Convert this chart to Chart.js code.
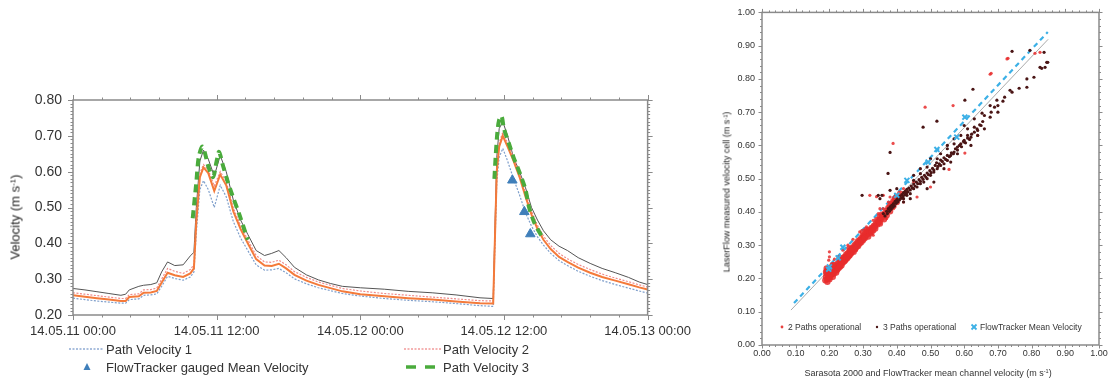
<!DOCTYPE html>
<html>
<head>
<meta charset="utf-8">
<script src="https://cdn.jsdelivr.net/npm/chart.js@4.4.1/dist/chart.umd.min.js"></script>
<style>
  html, body { margin: 0; padding: 0; background: #fff; }
  body { width: 1115px; height: 382px; position: relative; overflow: hidden; font-family: "Liberation Sans", Arial, sans-serif; color: #333; }
  .box { position: absolute; }
  .lbl { position: absolute; white-space: nowrap; line-height: 1; }
  .rot { transform: translate(-50%, -50%) rotate(-90deg); }
  sup { font-size: 0.62em; vertical-align: 0.45em; }
</style>
</head>
<body>
<div class="box" style="left:0;top:0;width:700px;height:382px"><canvas id="timeChart"></canvas></div>
<div class="box" style="left:700px;top:0;width:415px;height:382px"><canvas id="scatterChart"></canvas></div>

<!-- axis titles -->
<div class="lbl rot" style="left:15px;top:217px;font-size:13px;color:#222">Velocity (m s<sup>-1</sup>)</div>
<div class="lbl rot" style="left:727px;top:192px;font-size:9px;color:#222">LaserFlow measured velocity cell (m s<sup>-1</sup>)</div>
<div class="lbl" style="left:928px;top:373px;transform:translate(-50%,-50%);font-size:9px">Sarasota 2000 and FlowTracker mean channel velocity (m s<sup>-1</sup>)</div>

<!-- legends -->
<svg class="box" style="left:0;top:0" width="1115" height="382">
  <line x1="69" y1="349" x2="104" y2="349" stroke="#8fabd3" stroke-width="1.3" stroke-dasharray="2,1.5"/>
  <line x1="404" y1="349" x2="441" y2="349" stroke="#f29a9a" stroke-width="1.3" stroke-dasharray="2,1.5"/>
  <polygon points="87,363 83.5,370 90.5,370" fill="#3f7fba"/>
  <line x1="406" y1="367" x2="416" y2="367" stroke="#4aab3c" stroke-width="3.5"/>
  <line x1="425" y1="367" x2="435" y2="367" stroke="#4aab3c" stroke-width="3.5"/>
  <circle cx="782" cy="327" r="1.4" fill="#e8413f"/>
  <circle cx="877" cy="327" r="1.2" fill="#4a1515"/>
  <line x1="971.5" y1="324.5" x2="976.5" y2="329.5" stroke="#3cb0e6" stroke-width="1.8"/>
  <line x1="976.5" y1="324.5" x2="971.5" y2="329.5" stroke="#3cb0e6" stroke-width="1.8"/>
</svg>
<div class="lbl" style="left:106px;top:343px;font-size:13px">Path Velocity 1</div>
<div class="lbl" style="left:443px;top:343px;font-size:13px">Path Velocity 2</div>
<div class="lbl" style="left:106px;top:361px;font-size:13px">FlowTracker gauged Mean Velocity</div>
<div class="lbl" style="left:443px;top:361px;font-size:13px">Path Velocity 3</div>
<div class="lbl" style="left:788px;top:323px;font-size:8.5px">2 Paths operational</div>
<div class="lbl" style="left:883px;top:323px;font-size:8.5px">3 Paths operational</div>
<div class="lbl" style="left:980px;top:323px;font-size:8.5px">FlowTracker Mean Velocity</div>

<script>
// time series, hours since 14.05.11 00:00
const timeLabels = ["14.05.11 00:00", "14.05.11 12:00", "14.05.12 00:00", "14.05.12 12:00", "14.05.13 00:00"];
const hours = [0,1,2,3,4, 4.4,4.7,5.5,5.9,6.5, 7,7.4,7.9,8.5,9.2, 9.8,10.1,10.3,10.6,10.9,
  11.3,11.8,12.3,12.8,13.4, 14,14.6,15.3,16,16.6, 17.2,17.8,18.5,19.5,20.5, 21.5,22.5,24,26,28,
  30,32,34,35.1,35.25, 35.4,35.6,35.9,36.3,36.8, 37.3,37.8,38.3,38.8,39.3, 39.9,40.6,41.3,42.2,43.2,
  44.2,45.3,46.4,47.3,48];
const upperVel = [0.274,0.270,0.265,0.260,0.255, 0.258,0.270,0.280,0.283,0.285, 0.290,0.320,0.348,0.338,0.340,
  0.365,0.375,0.500,0.630,0.660, 0.635,0.588,0.645,0.600,0.520, 0.465,0.425,0.380,0.366,0.372,
  0.380,0.360,0.333,0.312,0.298, 0.288,0.280,0.276,0.272,0.266, 0.262,0.256,0.248,0.246,0.450,
  0.640,0.720,0.740,0.700,0.640, 0.600,0.555,0.500,0.465,0.435, 0.410,0.392,0.380,0.360,0.344,
  0.330,0.318,0.305,0.292,0.285];
const meanVel = [0.255,0.251,0.247,0.243,0.239, 0.239,0.250,0.252,0.262,0.263, 0.267,0.290,0.318,0.311,0.306,
  0.316,0.330,0.460,0.585,0.612, 0.596,0.546,0.592,0.562,0.488, 0.440,0.400,0.356,0.338,0.337,
  0.343,0.330,0.312,0.296,0.284, 0.275,0.266,0.258,0.252,0.247, 0.243,0.238,0.233,0.232,0.420,
  0.600,0.670,0.700,0.670,0.630, 0.585,0.530,0.480,0.440,0.410, 0.384,0.362,0.348,0.332,0.318,
  0.306,0.296,0.286,0.277,0.271];
const pathVel1 = [0.247,0.243,0.239,0.236,0.233, 0.233,0.243,0.245,0.255,0.256, 0.259,0.280,0.308,0.302,0.297,
  0.306,0.320,0.430,0.550,0.575, 0.550,0.500,0.562,0.530,0.460, 0.415,0.380,0.340,0.325,0.326,
  0.330,0.318,0.301,0.287,0.276, 0.268,0.260,0.253,0.246,0.241, 0.237,0.232,0.226,0.224,0.400,
  0.570,0.640,0.665,0.630,0.580, 0.535,0.485,0.448,0.418,0.395, 0.372,0.352,0.338,0.322,0.308,
  0.296,0.285,0.275,0.267,0.261];
const pathVel2 = [0.262,0.258,0.254,0.250,0.246, 0.246,0.257,0.259,0.270,0.271, 0.275,0.300,0.330,0.322,0.316,
  0.327,0.340,0.470,0.595,0.620, 0.605,0.560,0.600,0.572,0.498, 0.450,0.410,0.366,0.348,0.347,
  0.353,0.340,0.321,0.305,0.292, 0.283,0.274,0.267,0.260,0.255, 0.250,0.245,0.240,0.239,0.430,
  0.610,0.680,0.710,0.680,0.640, 0.595,0.540,0.490,0.450,0.420, 0.394,0.372,0.357,0.341,0.327,
  0.314,0.303,0.293,0.284,0.278];
const pv3HoursA = [10.0,10.3,10.5,10.8,11.0,11.3,11.7,12.0,12.2,12.5,12.9,13.3,13.9,14.3,14.6];
const pathVel3A = [0.470,0.570,0.640,0.670,0.655,0.615,0.585,0.630,0.655,0.620,0.575,0.535,0.480,0.440,0.410];
const pv3HoursB = [35.2,35.3,35.45,35.6,35.8,36.0,36.4,36.8,37.1,37.5,37.8,38.1,38.5,38.8,39.2];
const pathVel3B = [0.580,0.640,0.710,0.745,0.755,0.720,0.680,0.640,0.615,0.580,0.550,0.500,0.460,0.440,0.418];
const gaugedHours = [36.7, 37.7, 38.2];
const gaugedVel = [0.576, 0.488, 0.426];

// scatter: 2 paths operational (dense core first, then scattered points)
const twoPathX = [0.190,0.192,0.195,0.195,0.198,0.200,0.200,0.203,0.205,0.207,0.208,0.210,0.212,0.215,0.215,0.218,0.220,0.222,0.225,0.225,
  0.228,0.230,0.232,0.235,0.235,0.238,0.240,0.242,0.245,0.248,0.250,0.252,0.255,0.258,0.260,0.262,0.265,0.268,0.270,0.272,
  0.275,0.278,0.280,0.283,0.285,0.288,0.290,0.293,0.295,0.298,0.300,0.303,0.306,0.309,0.312,0.315,0.318,0.322,0.325,0.328,
  0.332,0.335,0.338,0.342,0.345,0.348,0.352,0.356,0.360,0.365,0.370,0.375,0.380,0.385,0.390,0.395,0.400,0.410,
  0.188,0.190,0.192,0.194,0.197,0.200,0.202,0.205,0.208,0.210,0.213,0.216,0.220,0.224,0.228,0.232,0.236,0.240,0.244,0.248,
  0.252,0.256,0.260,0.264,0.268,0.272,0.276,0.280,0.285,0.290,0.295,0.300,0.305,0.310,0.315,0.320,0.325,0.330,0.336,0.342,
  0.350,0.355,0.362,0.370,0.380,0.390,0.400,0.350,0.300,0.260,0.230,0.210,
  0.200,0.198,0.215,0.240,0.255,0.270,0.290,0.310,0.330,0.345,0.360,0.375,0.380,0.360,0.420,0.450,0.500,0.460,0.400,0.430,
  0.350,0.390,0.370,0.330,0.420,0.190,0.205,0.225,0.250,0.280,0.200,0.320,0.340,
  0.389,0.484,0.567,0.602,0.555,0.677,0.640,0.825,0.810,0.730,0.680,0.727];
const twoPathY = [0.205,0.215,0.225,0.200,0.212,0.230,0.218,0.208,0.222,0.235,0.214,0.226,0.220,0.232,0.240,0.226,0.236,0.228,0.245,0.234,
  0.240,0.250,0.242,0.255,0.246,0.252,0.262,0.255,0.265,0.260,0.272,0.266,0.276,0.270,0.283,0.276,0.288,0.282,0.293,0.288,
  0.300,0.294,0.305,0.300,0.312,0.306,0.316,0.312,0.322,0.318,0.328,0.323,0.334,0.330,0.340,0.336,0.346,0.343,0.352,0.350,
  0.358,0.356,0.365,0.362,0.372,0.370,0.378,0.384,0.390,0.396,0.404,0.412,0.418,0.425,0.432,0.440,0.446,0.455,
  0.195,0.220,0.230,0.190,0.205,0.198,0.225,0.212,0.228,0.205,0.215,0.225,0.218,0.228,0.232,0.236,0.240,0.248,0.252,0.258,
  0.260,0.265,0.270,0.275,0.290,0.280,0.288,0.295,0.298,0.305,0.310,0.316,0.322,0.345,0.326,0.335,0.340,0.345,0.350,0.376,
  0.365,0.392,0.378,0.390,0.402,0.418,0.430,0.385,0.340,0.290,0.260,0.240,
  0.265,0.255,0.258,0.285,0.300,0.318,0.340,0.355,0.375,0.395,0.410,0.430,0.445,0.450,0.470,0.490,0.475,0.445,0.440,0.460,
  0.410,0.410,0.380,0.330,0.430,0.195,0.200,0.220,0.250,0.285,0.280,0.450,0.446,
  0.606,0.715,0.720,0.577,0.528,0.814,0.630,0.880,0.877,0.862,0.817,0.860];
const twoPathCore = 130;

// scatter: 3 paths operational
const threePathX = [0.360,0.365,0.370,0.372,0.375,0.378,0.380,0.383,0.385,0.388,0.390,0.393,0.395,0.398,0.400,0.403,0.405,0.408,0.410,0.413,
  0.415,0.418,0.420,0.423,0.425,0.428,0.430,0.433,0.436,0.440,0.443,0.446,0.450,0.454,0.458,0.462,0.466,0.470,0.474,0.478,
  0.482,0.486,0.490,0.494,0.498,0.502,0.506,0.510,0.514,0.518,0.520,0.522,0.526,0.530,0.535,0.540,0.545,0.550,0.556,0.562,
  0.568,0.574,0.580,0.586,0.592,0.598,0.604,0.610,0.616,0.622,0.630,0.638,0.646,0.655,
  0.420,0.430,0.440,0.450,0.460,0.470,0.480,0.490,0.500,0.510,0.520,0.530,0.540,0.550,0.560,0.570,0.580,0.590,0.600,0.610,
  0.620,0.630,0.640,0.650,0.450,0.470,0.490,0.530,0.550,0.570,0.590,0.610,0.630,0.660,0.680,0.700,
  0.374,0.380,0.345,0.350,0.400,0.450,0.470,0.500,0.519,0.478,0.550,0.570,0.600,0.626,0.602,0.653,0.677,0.697,0.715,0.690,
  0.677,0.700,0.720,0.736,0.742,0.763,0.786,0.786,0.807,0.825,0.840,0.830,0.845,0.848,0.837,0.795,0.742,0.600,0.580,0.560,
  0.540,0.620,0.640,0.660,0.510,0.490,0.440,0.420,0.297,0.356,0.380];
const threePathY = [0.395,0.388,0.402,0.395,0.410,0.402,0.415,0.408,0.420,0.414,0.425,0.418,0.432,0.426,0.437,0.430,0.442,0.436,0.448,0.441,
  0.452,0.446,0.458,0.451,0.462,0.456,0.468,0.461,0.472,0.466,0.478,0.472,0.484,0.478,0.490,0.485,0.497,0.492,0.504,0.498,
  0.510,0.505,0.517,0.512,0.524,0.518,0.531,0.526,0.540,0.548,0.560,0.537,0.545,0.556,0.552,0.563,0.558,0.570,0.566,0.578,
  0.575,0.590,0.586,0.600,0.596,0.612,0.608,0.622,0.618,0.634,0.640,0.650,0.662,0.672,
  0.440,0.450,0.455,0.470,0.475,0.485,0.490,0.500,0.510,0.520,0.530,0.540,0.545,0.555,0.570,0.580,0.595,0.605,0.615,0.630,
  0.625,0.655,0.645,0.660,0.495,0.515,0.535,0.575,0.590,0.605,0.630,0.650,0.680,0.690,0.700,0.720,
  0.516,0.579,0.450,0.440,0.470,0.510,0.530,0.560,0.673,0.655,0.600,0.620,0.660,0.769,0.736,0.697,0.720,0.736,0.733,0.715,
  0.685,0.700,0.745,0.766,0.760,0.772,0.775,0.800,0.805,0.835,0.835,0.832,0.850,0.850,0.880,0.886,0.883,0.610,0.575,0.550,
  0.530,0.600,0.630,0.650,0.490,0.470,0.440,0.430,0.450,0.450,0.465];

// scatter: FlowTracker mean velocity
const flowX = [0.198,0.200,0.226,0.240,0.400,0.430,0.493,0.519,0.578,0.602];
const flowY = [0.228,0.235,0.262,0.294,0.450,0.495,0.550,0.588,0.625,0.685];

// fitted lines
const allFitX = [0.086, 0.849];
const allFitY = [0.105, 0.919];
const flowFitX = [0.095, 0.848];
const flowFitY = [0.126, 0.941];

Chart.defaults.font.family = '"Liberation Sans", Arial, sans-serif';
Chart.defaults.color = '#333';

const pts = (xs, ys) => xs.map((x, i) => ({ x: x, y: ys[i] }));

// frame and minor ticks drawn on all four sides
const frameTicks = {
  id: 'frameTicks',
  afterDatasetsDraw(chart, args, o) {
    const { ctx, chartArea: a, scales: { x, y } } = chart;
    ctx.save();
    ctx.strokeStyle = o.color;
    ctx.lineWidth = 1;
    const line = (x1, y1, x2, y2) => { ctx.beginPath(); ctx.moveTo(x1, y1); ctx.lineTo(x2, y2); ctx.stroke(); };
    let n = Math.round((x.max - x.min) / o.xMinor);
    for (let i = 0; i <= n; i++) {
      const v = x.min + i * o.xMinor;
      const px = Math.round(x.getPixelForValue(v)) + 0.5;
      const len = (i % o.xEvery === 0) ? o.major : o.minor;
      line(px, a.bottom, px, a.bottom + len);
      line(px, a.top, px, a.top - len);
    }
    n = Math.round((y.max - y.min) / o.yMinor);
    for (let i = 0; i <= n; i++) {
      const v = y.min + i * o.yMinor;
      const py = Math.round(y.getPixelForValue(v)) + 0.5;
      const len = (i % o.yEvery === 0) ? o.major : o.minor;
      line(a.left, py, a.left - len, py);
      line(a.right, py, a.right + len, py);
    }
    ctx.lineWidth = o.width;
    ctx.strokeRect(a.left, a.top, a.right - a.left, a.bottom - a.top);
    ctx.restore();
  }
};

new Chart(document.getElementById('timeChart'), {
  type: 'line',
  data: {
    datasets: [
      { label: 'FlowTracker gauged Mean Velocity', data: pts(gaugedHours, gaugedVel), showLine: false,
        pointStyle: 'triangle', pointRadius: 5.5, backgroundColor: '#3f7fba', borderColor: '#3f7fba', order: 0 },
      { label: 'Path Velocity 3', data: pts(pv3HoursA, pathVel3A), borderColor: '#4aab3c', borderWidth: 4,
        borderDash: [8, 5], pointRadius: 0, tension: 0.3, order: 1 },
      { label: 'Path Velocity 3', data: pts(pv3HoursB, pathVel3B), borderColor: '#4aab3c', borderWidth: 4,
        borderDash: [8, 5], pointRadius: 0, tension: 0.3, order: 1 },
      { label: 'Mean', data: pts(hours, meanVel), borderColor: '#f47a3a', borderWidth: 2, pointRadius: 0, order: 2 },
      { label: 'Path Velocity 2', data: pts(hours, pathVel2), borderColor: '#f08a8a', borderWidth: 1.2,
        borderDash: [2, 1.5], pointRadius: 0, order: 3 },
      { label: 'Path Velocity 1', data: pts(hours, pathVel1), borderColor: '#7f9fcb', borderWidth: 1.2,
        borderDash: [2, 1.5], pointRadius: 0, order: 4 },
      { label: 'Upper', data: pts(hours, upperVel), borderColor: '#555', borderWidth: 1, pointRadius: 0, order: 5 }
    ]
  },
  options: {
    responsive: true, maintainAspectRatio: false, animation: false,
    layout: { padding: { left: 0, right: 52, top: 100, bottom: 45 } },
    plugins: {
      legend: { display: false }, tooltip: { enabled: false },
      frameTicks: { color: '#8a8a8a', width: 1.5, xMinor: 2.4, xEvery: 5, yMinor: 0.01, yEvery: 10, major: 5, minor: 2.5 }
    },
    scales: {
      x: {
        type: 'linear', min: 0, max: 48,
        afterFit(s) { s.height = 22; },
        ticks: { stepSize: 12, callback: (v) => timeLabels[Math.round(v / 12)], font: { size: 13 }, color: '#333',
          padding: 9, maxRotation: 0, autoSkip: false },
        grid: { display: false, drawTicks: false }, border: { display: false }
      },
      y: {
        min: 0.2, max: 0.8,
        afterFit(s) { s.width = 73; },
        ticks: { stepSize: 0.1, callback: (v) => v.toFixed(2), font: { size: 14 }, color: '#333', padding: 11 },
        grid: { display: false, drawTicks: false }, border: { display: false }
      }
    }
  },
  plugins: [frameTicks]
});

new Chart(document.getElementById('scatterChart'), {
  type: 'scatter',
  data: {
    datasets: [
      { label: 'FlowTracker Mean Velocity', data: pts(flowX, flowY), pointStyle: 'crossRot', pointRadius: 3.5,
        borderColor: '#3cb0e6', borderWidth: 2, order: 0 },
      { label: '3 Paths operational', data: pts(threePathX, threePathY), pointRadius: 1.6,
        backgroundColor: '#4a1515', borderColor: '#4a1515', borderWidth: 0, order: 1 },
      { label: '2 Paths operational', data: pts(twoPathX, twoPathY),
        pointRadius: (c) => c.dataIndex < twoPathCore ? 3.2 : 1.6,
        backgroundColor: 'rgba(232,45,45,0.85)', borderColor: 'rgba(232,45,45,0.85)', borderWidth: 0, order: 2 },
      { label: 'FlowTracker fit', data: pts(flowFitX, flowFitY), showLine: true, pointRadius: 0,
        borderColor: '#3cb0e6', borderWidth: 2.2, borderDash: [5, 4], order: 3 },
      { label: 'All fit', data: pts(allFitX, allFitY), showLine: true, pointRadius: 0,
        borderColor: '#aaa', borderWidth: 1, order: 4 }
    ]
  },
  options: {
    responsive: true, maintainAspectRatio: false, animation: false,
    layout: { padding: { left: 0, right: 16, top: 12, bottom: 23 } },
    plugins: {
      legend: { display: false }, tooltip: { enabled: false },
      frameTicks: { color: '#8a8a8a', width: 1.5, xMinor: 0.02, xEvery: 5, yMinor: 0.02, yEvery: 5, major: 3.5, minor: 2 }
    },
    scales: {
      x: {
        min: 0, max: 1,
        afterFit(s) { s.height = 14; },
        ticks: { stepSize: 0.1, callback: (v) => v.toFixed(2), font: { size: 9 }, color: '#333', padding: 3,
          maxRotation: 0, autoSkip: false },
        grid: { display: false, drawTicks: false }, border: { display: false }
      },
      y: {
        min: 0, max: 1,
        afterFit(s) { s.width = 62; },
        ticks: { stepSize: 0.1, callback: (v) => v.toFixed(2), font: { size: 9 }, color: '#333', padding: 7 },
        grid: { display: false, drawTicks: false }, border: { display: false }
      }
    }
  },
  plugins: [frameTicks]
});
</script>
</body>
</html>
